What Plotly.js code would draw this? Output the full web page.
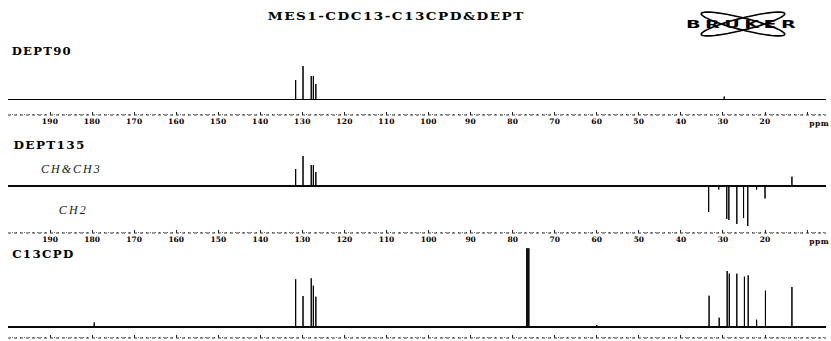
<!DOCTYPE html>
<html><head><meta charset="utf-8">
<script src="https://cdn.plot.ly/plotly-3.0.1.min.js"></script>
<style>
html,body{margin:0;padding:0;background:#fff;}
#chart{width:831px;height:341px;}
g.annotation text{transform-box:fill-box;transform-origin:center;}
g.annotation[data-index="0"] text{letter-spacing:1.2px;transform:scaleX(1.23);}
g.annotation[data-index="1"] text{letter-spacing:1.2px;transform:scaleX(1.06);}
g.annotation[data-index="2"] text{letter-spacing:1.2px;transform:scaleX(1.1);}
g.annotation[data-index="3"] text{letter-spacing:1.2px;transform:scaleX(1.08);}
g.annotation[data-index="4"] text{letter-spacing:2px;}
g.annotation[data-index="5"] text{letter-spacing:2.2px;}
g.annotation[data-index="6"] text{letter-spacing:0.5px;}
g.annotation[data-index="7"] text{letter-spacing:0.5px;}
g.annotation[data-index="8"] text{letter-spacing:2.5px;transform:scaleX(1.75);}
.xtick text{letter-spacing:0.3px;}
</style></head><body><div id="chart"></div>
<script>
// ---- data (chemical shift in ppm, relative intensity) ----
const dept90Ppm = [131.6, 129.85, 127.9, 127.4, 126.8, 29.7];
const dept90Int = [19.5, 33.5, 23.5, 23.5, 15.5, 3];

const dept135Ppm = [131.6, 129.85, 127.9, 127.4, 126.8, 33.4, 31.0, 29.1, 28.6, 26.7, 25.1, 24.1, 22.0, 20.0, 13.6];
const dept135Int = [17, 30, 21, 21, 14, -26, -3.5, -33, -34, -38, -32, -40, -3.5, -12.5, 9.3];

const cpdPpm = [179.5, 131.6, 129.85, 127.9, 127.4, 126.8, 76.65, 76.4, 76.15, 60.0, 33.3, 30.9, 29.0, 28.5, 26.7, 24.9, 24.0, 22.0, 19.9, 13.6];
const cpdInt = [4.5, 47.7, 31, 48.7, 41.3, 30.3, 78.7, 78.7, 78.7, 2, 31.3, 9.3, 56, 53.3, 53.3, 50.3, 51.7, 7.3, 36.3, 40];

const tickVals = [190, 180, 170, 160, 150, 140, 130, 120, 110, 100, 90, 80, 70, 60, 50, 40, 30, 20, 10];
const tickText = ['190', '180', '170', '160', '150', '140', '130', '120', '110', '100', '90', '80', '70', '60', '50', '40', '30', '20', ''];

const ppmStart = 200, ppmEnd = 5.5;

// ---- build stick spectra ----
function stick(ppm, inten) {
  const idx = ppm.map((p, i) => i).sort((a, b) => ppm[b] - ppm[a]);
  const x = [ppmStart], y = [0];
  idx.forEach(i => { x.push(ppm[i], ppm[i], ppm[i]); y.push(0, inten[i], 0); });
  x.push(ppmEnd); y.push(0);
  return {x, y};
}
const s1 = stick(dept90Ppm, dept90Int);
const s2 = stick(dept135Ppm, dept135Int);
const s3 = stick(cpdPpm, cpdInt);

const lineStyle = {color: '#000', width: 1};
const traces = [
  {type: 'scatter', mode: 'lines', x: s1.x, y: s1.y, xaxis: 'x', yaxis: 'y', line: lineStyle, hoverinfo: 'skip'},
  {type: 'scatter', mode: 'lines', x: s2.x, y: s2.y, xaxis: 'x2', yaxis: 'y2', line: lineStyle, hoverinfo: 'skip'},
  {type: 'scatter', mode: 'lines', x: s3.x, y: s3.y, xaxis: 'x3', yaxis: 'y3', line: lineStyle, hoverinfo: 'skip'}
];

const W = 831, H = 341;
const px = v => v / W, py = v => 1 - v / H;
const serifB = 'DejaVu Serif, Liberation Serif, serif';

function xAxis(anchor, labels) {
  return {
    domain: [px(8), px(826)], range: [ppmStart, ppmEnd], anchor: anchor,
    tickmode: 'array', tickvals: tickVals, ticktext: tickText,
    ticks: 'inside', ticklen: 3, tickwidth: 1, tickcolor: '#222',
    minor: {dtick: 1, ticks: 'inside', ticklen: 1.5, tickwidth: 1, tickcolor: '#666'},
    showticklabels: labels, showgrid: false, zeroline: false, showline: false,
    tickfont: {family: serifB, size: 7.5, color: '#000', weight: 700},
    fixedrange: true
  };
}
function yAxis(top, bottom, range) {
  return {
    domain: [py(bottom), py(top)], range: range,
    showticklabels: false, showgrid: false, ticks: '', showline: false,
    zeroline: true, zerolinecolor: '#111', zerolinewidth: 1.6, fixedrange: true
  };
}

// logo orbits
function orbit(cx, cy, a, b, deg) {
  const th = deg * Math.PI / 180;
  let d = '';
  for (let k = 0; k <= 72; k++) {
    const t = k / 72 * 2 * Math.PI;
    const X = cx + a * Math.cos(t) * Math.cos(th) - b * Math.sin(t) * Math.sin(th);
    const Y = cy + a * Math.cos(t) * Math.sin(th) + b * Math.sin(t) * Math.cos(th);
    d += (k === 0 ? 'M' : 'L') + px(X).toFixed(5) + ',' + py(Y).toFixed(5);
  }
  return d + 'Z';
}

const shapes = [
  {type: 'line', xref: 'paper', yref: 'y domain', x0: px(8), x1: px(826), y0: 0, y1: 0, line: {color: '#333', width: 1, dash: 'dot'}},
  {type: 'line', xref: 'paper', yref: 'y2 domain', x0: px(8), x1: px(826), y0: 0, y1: 0, line: {color: '#333', width: 1, dash: 'dot'}},
  {type: 'line', xref: 'paper', yref: 'y3 domain', x0: px(8), x1: px(826), y0: 0, y1: 0, line: {color: '#333', width: 1, dash: 'dot'}},
  {type: 'path', xref: 'paper', yref: 'paper', path: orbit(743, 24, 43, 6, 14), line: {color: '#000', width: 1.6}},
  {type: 'path', xref: 'paper', yref: 'paper', path: orbit(743, 24, 43, 6, -14), line: {color: '#000', width: 1.6}}
];

function ann(text, x, y, font) {
  return {text: text, xref: 'paper', yref: 'paper', x: px(x), y: py(y), xanchor: 'center', yanchor: 'middle', showarrow: false, font: font};
}
const boldSerif = s => ({family: serifB, size: s, color: '#000', weight: 700});
const ital = {family: 'Liberation Serif, serif', size: 12, color: '#222', style: 'italic'};

const annotations = [
  ann('MES1-CDC13-C13CPD&amp;DEPT', 396, 17, boldSerif(11)),
  ann('DEPT90', 41.5, 52, boldSerif(11)),
  ann('DEPT135', 49.5, 145, boldSerif(11)),
  ann('C13CPD', 43, 254, boldSerif(11)),
  ann('CH&amp;CH3', 71, 169, ital),
  ann('CH2', 73, 210, ital),
  ann('ppm', 819, 123, boldSerif(7.5)),
  ann('ppm', 819, 241, boldSerif(7.5)),
  ann('BRUKER', 743, 24, {family: 'DejaVu Sans, sans-serif', size: 11, color: '#000', weight: 700})
];

const layout = {
  width: W, height: H, margin: {l: 0, r: 0, t: 0, b: 0},
  paper_bgcolor: '#fff', plot_bgcolor: '#fff', showlegend: false,
  xaxis: xAxis('y', true),
  xaxis2: Object.assign(xAxis('y2', true), {matches: 'x'}),
  xaxis3: Object.assign(xAxis('y3', false), {matches: 'x'}),
  yaxis: yAxis(45, 115, [-15.5, 54.5]),
  yaxis2: yAxis(150, 233, [-47, 36]),
  yaxis3: yAxis(246, 338, [-11, 81]),
  shapes: shapes, annotations: annotations
};

Plotly.newPlot('chart', traces, layout, {staticPlot: true, displayModeBar: false});
</script></body></html>
